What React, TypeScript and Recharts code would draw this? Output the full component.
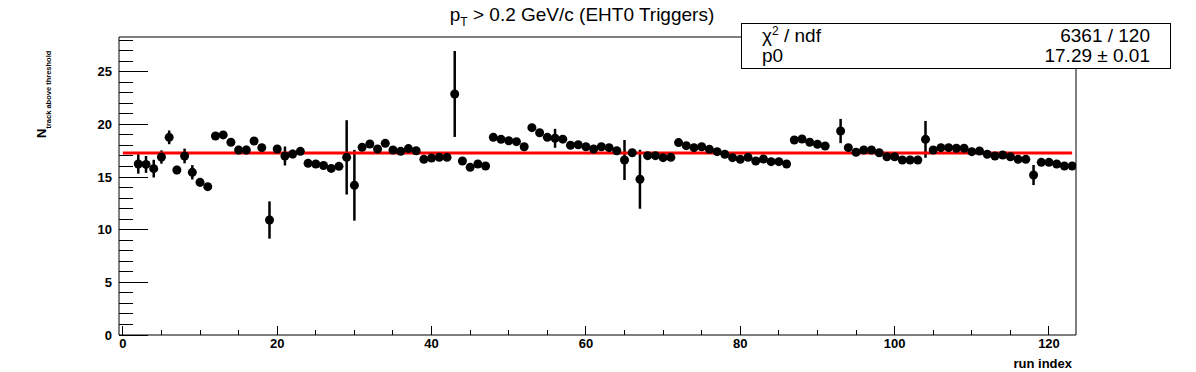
/**
 * RunQA — mean track multiplicity above threshold per run, with constant fit
 */
import {
  ComposedChart,
  Scatter,
  ErrorBar,
  XAxis,
  YAxis,
  ReferenceLine,
  ReferenceArea,
} from "recharts";

const RUN_INDEX = [
  2, 3, 4, 5, 6, 7, 8, 9, 10, 11, 12, 13, 14, 15, 16, 17, 18, 19, 20, 21,
  22, 23, 24, 25, 26, 27, 28, 29, 30, 31, 32, 33, 34, 35, 36, 37, 38, 39, 40, 41,
  42, 43, 44, 45, 46, 47, 48, 49, 50, 51, 52, 53, 54, 55, 56, 57, 58, 59, 60, 61,
  62, 63, 64, 65, 66, 67, 68, 69, 70, 71, 72, 73, 74, 75, 76, 77, 78, 79, 80, 81,
  82, 83, 84, 85, 86, 87, 88, 89, 90, 91, 93, 94, 95, 96, 97, 98, 99, 100, 101, 102,
  103, 104, 105, 106, 107, 108, 109, 110, 111, 112, 113, 114, 115, 116, 117, 118, 119, 120, 121, 122,
  123,
];

const N_TRACK = [
  16.24, 16.2, 15.8, 16.9, 18.77, 15.67, 17.0, 15.45, 14.5, 14.09, 18.9, 19.0, 18.3, 17.57, 17.57, 18.42, 17.79, 10.92, 17.66, 17.0,
  17.19, 17.44, 16.3, 16.24, 16.1, 15.82, 16.02, 16.87, 14.22, 17.82, 18.14, 17.66, 18.2, 17.57, 17.44, 17.7, 17.5, 16.68, 16.81, 16.87,
  16.87, 22.89, 16.52, 15.92, 16.24, 16.05, 18.77, 18.58, 18.45, 18.36, 17.88, 19.69, 19.21, 18.77, 18.68, 18.6, 18.02, 18.07, 17.88, 17.66,
  17.88, 17.79, 17.5, 16.62, 17.31, 14.79, 17.03, 17.03, 16.84, 16.87, 18.27, 17.98, 17.79, 17.88, 17.63, 17.41, 17.16, 16.84, 16.68, 16.87,
  16.52, 16.71, 16.46, 16.46, 16.24, 18.52, 18.61, 18.3, 18.12, 17.95, 19.37, 17.79, 17.35, 17.57, 17.57, 17.31, 16.93, 16.93, 16.62, 16.62,
  16.62, 18.58, 17.57, 17.79, 17.79, 17.73, 17.73, 17.41, 17.47, 17.16, 17.0, 17.09, 16.93, 16.68, 16.68, 15.19, 16.4, 16.4, 16.24, 16.05,
  16.05,
];

const N_ERR = [
  0.92, 0.8, 0.84, 0.63, 0.65, 0.4, 0.7, 0.68, 0.4, 0.3, 0.3, 0.3, 0.3, 0.4, 0.4, 0.3, 0.3, 1.77, 0.3, 0.9,
  0.4, 0.3, 0.3, 0.3, 0.3, 0.3, 0.3, 3.53, 3.36, 0.3, 0.3, 0.3, 0.3, 0.3, 0.3, 0.3, 0.3, 0.3, 0.3, 0.3,
  0.3, 4.08, 0.3, 0.3, 0.3, 0.3, 0.3, 0.3, 0.3, 0.3, 0.3, 0.3, 0.3, 0.3, 0.9, 0.3, 0.3, 0.3, 0.3, 0.3,
  0.3, 0.3, 0.3, 1.9, 0.3, 2.8, 0.3, 0.3, 0.3, 0.3, 0.3, 0.3, 0.3, 0.3, 0.3, 0.3, 0.3, 0.3, 0.3, 0.3,
  0.3, 0.3, 0.3, 0.3, 0.3, 0.3, 0.3, 0.3, 0.3, 0.3, 1.15, 0.3, 0.3, 0.3, 0.3, 0.3, 0.3, 0.3, 0.3, 0.3,
  0.3, 1.75, 0.3, 0.3, 0.3, 0.3, 0.3, 0.3, 0.3, 0.3, 0.3, 0.3, 0.3, 0.3, 0.3, 0.95, 0.3, 0.3, 0.3, 0.3,
  0.3,
];

const FIT_P0 = 17.29;
const FIT_RANGE = [0, 123];

const X_TICKS = [0, 5, 10, 15, 20, 25, 30, 35, 40, 45, 50, 55, 60, 65, 70, 75, 80, 85, 90, 95, 100, 105, 110, 115, 120];
const Y_TICKS = [0, 1, 2, 3, 4, 5, 6, 7, 8, 9, 10, 11, 12, 13, 14, 15, 16, 17, 18, 19, 20, 21, 22, 23, 24, 25, 26, 27, 28];

const X_DOMAIN = [-0.5, 123.5];
const Y_DOMAIN = [0, 28.3];

const FONT = "'Liberation Sans', Arial, Helvetica, sans-serif";

const points = RUN_INDEX.map((x, i) => ({ x, y: N_TRACK[i], err: N_ERR[i] }));

function YTick({ x, y, payload }: any) {
  const major = payload.value % 5 === 0;
  return (
    <g>
      <line x1={x} y1={y} x2={x + (major ? 29 : 14)} y2={y} stroke="#000" shapeRendering="crispEdges" />
      {major && (
        <text x={x - 7} y={y + 4.5} textAnchor="end" fontFamily={FONT} fontWeight="bold" fontSize={13} fill="#000">
          {payload.value}
        </text>
      )}
    </g>
  );
}

function XTick({ x, y, payload }: any) {
  const major = payload.value % 20 === 0;
  return (
    <g>
      <line x1={x} y1={y} x2={x} y2={y - (major ? 9 : 5)} stroke="#000" shapeRendering="crispEdges" />
      {major && (
        <text x={x} y={y + 13} textAnchor="middle" fontFamily={FONT} fontWeight="bold" fontSize={13} fill="#000">
          {payload.value}
        </text>
      )}
    </g>
  );
}

function Dot({ cx, cy }: any) {
  return <circle cx={cx} cy={cy} r={4.5} fill="#000" />;
}

export default function App() {
  return (
    <div style={{ position: "absolute", left: 0, top: 0, width: 1196, height: 372, background: "#fff" }}>
      <ComposedChart
        width={1196}
        height={372}
        data={points}
        margin={{ top: 37, right: 120, bottom: 7, left: 59 }}
      >
        <XAxis
          type="number"
          dataKey="x"
          domain={X_DOMAIN}
          ticks={X_TICKS}
          interval={0}
          height={30}
          tickSize={0}
          tickMargin={0}
          tickLine={false}
          axisLine={false}
          tick={<XTick />}
          allowDataOverflow
        />
        <YAxis
          type="number"
          dataKey="y"
          domain={Y_DOMAIN}
          ticks={Y_TICKS}
          interval={0}
          width={60}
          tickSize={0}
          tickMargin={0}
          tickLine={false}
          axisLine={false}
          tick={<YTick />}
          allowDataOverflow
        />
        <ReferenceArea
          x1={X_DOMAIN[0]}
          x2={X_DOMAIN[1]}
          y1={Y_DOMAIN[0]}
          y2={Y_DOMAIN[1]}
          fill="none"
          stroke="#000"
          strokeWidth={1}
          ifOverflow="visible"
        />
        <Scatter data={points} dataKey="y" shape={<Dot />} isAnimationActive={false}>
          <ErrorBar dataKey="err" direction="y" width={0} stroke="#000" strokeWidth={2.5} />
        </Scatter>
        <ReferenceLine
          segment={[
            { x: FIT_RANGE[0], y: FIT_P0 },
            { x: FIT_RANGE[1], y: FIT_P0 },
          ]}
          stroke="#ff0000"
          strokeWidth={3}
          ifOverflow="visible"
        />
        <text x={582} y={21} textAnchor="middle" fontFamily={FONT} fontSize={19} fill="#000">
          p<tspan fontSize={12} dy={5}>T</tspan>
          <tspan dy={-5}> &gt; 0.2 GeV/c (EHT0 Triggers)</tspan>
        </text>
        <text
          transform="translate(46,138) rotate(-90)"
          fontFamily={FONT}
          fontWeight="bold"
          fontSize={13}
          fill="#000"
        >
          N<tspan fontSize={7.5} dy={5}>track above threshold</tspan>
        </text>
        <text x={1072} y={368} textAnchor="end" fontFamily={FONT} fontWeight="bold" fontSize={13} fill="#000">
          run index
        </text>
      </ComposedChart>
      <div
        style={{
          position: "absolute",
          left: 741,
          top: 23,
          width: 430,
          height: 46,
          border: "1px solid #000",
          background: "#fff",
          fontFamily: FONT,
          fontSize: 19,
          lineHeight: "20px",
          color: "#000",
          padding: "2px 20px 0 20px",
          boxSizing: "border-box",
        }}
      >
        <div style={{ display: "flex", justifyContent: "space-between" }}>
          <span>
            χ<sup style={{ fontSize: 12, lineHeight: 0 }}>2</sup> / ndf
          </span>
          <span>6361 / 120</span>
        </div>
        <div style={{ display: "flex", justifyContent: "space-between" }}>
          <span>p0</span>
          <span>17.29 ± 0.01</span>
        </div>
      </div>
    </div>
  );
}
